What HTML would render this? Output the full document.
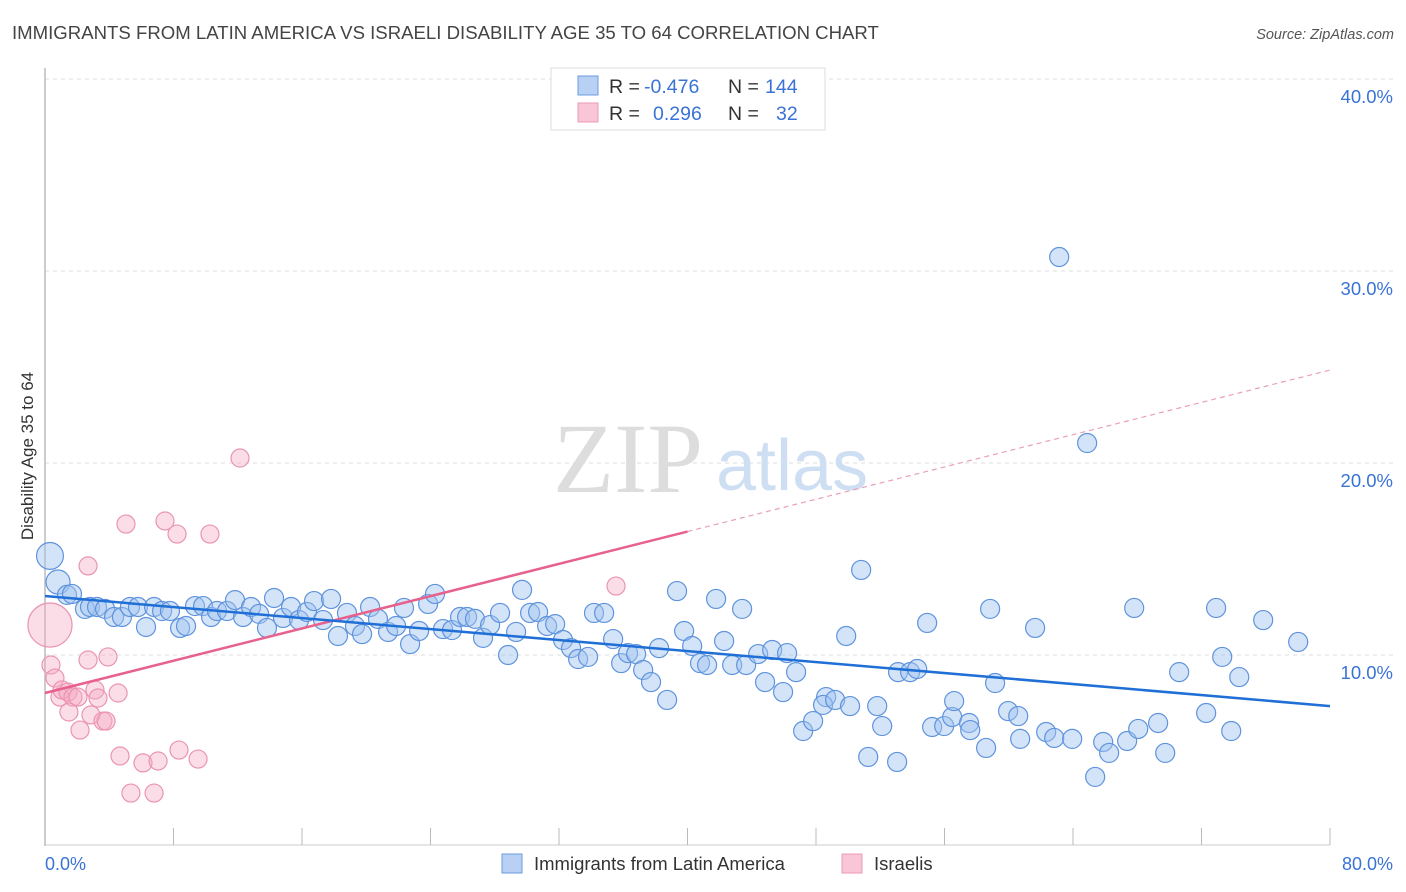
<!DOCTYPE html>
<html><head><meta charset="utf-8"><style>
body{margin:0;background:#fff;font-family:"Liberation Sans",sans-serif;}
#wrap{position:relative;width:1406px;height:892px;overflow:hidden}
</style></head><body>
<div id="wrap">
<svg id="svg" width="1406" height="892" xmlns="http://www.w3.org/2000/svg">
<text x="12" y="39" font-size="18.6" fill="#444">IMMIGRANTS FROM LATIN AMERICA VS ISRAELI DISABILITY AGE 35 TO 64 CORRELATION CHART</text>
<text x="1394" y="39" font-size="14.5" fill="#555" font-style="italic" text-anchor="end">Source: ZipAtlas.com</text>
<g id="grid"></g>
<g>
<text x="553" y="492" font-family="Liberation Serif,serif" font-size="100" fill="#ddd">ZIP</text>
<text x="716" y="490" font-size="72" fill="#cfdff3">atlas</text>
</g>
<line x1="45" y1="68" x2="45" y2="846" stroke="#bbb" stroke-width="1.5"/>
<line x1="45" y1="845" x2="1330" y2="845" stroke="#ccc" stroke-width="1"/>
<g id="ticks"></g>
<g id="pts"></g>
<g id="trends"></g>
<text transform="translate(33,456) rotate(-90)" font-size="17" fill="#333" text-anchor="middle">Disability Age 35 to 64</text>
<g id="ylabels"></g>
<text x="45" y="870" font-size="18" fill="#3a73d6">0.0%</text>
<text x="1393" y="870" font-size="18" fill="#3a73d6" text-anchor="end">80.0%</text>
<g>
<rect x="551" y="68" width="274" height="62" fill="#fff" stroke="#ddd"/>
<rect x="578" y="76" width="20" height="19" fill="#b7d0f3" stroke="#6b9be0"/>
<rect x="578" y="103" width="20" height="19" fill="#f8c6d6" stroke="#ea9ab4"/>
<text y="93" font-size="19.5" fill="#333"><tspan x="609">R =</tspan><tspan x="644" fill="#3a73d6">-0.476</tspan><tspan x="728">N =</tspan><tspan x="765" fill="#3a73d6">144</tspan></text>
<text y="120" font-size="19.5" fill="#333"><tspan x="609">R =</tspan><tspan x="653" fill="#3a73d6">0.296</tspan><tspan x="728">N =</tspan><tspan x="776" fill="#3a73d6">32</tspan></text>
</g>
<g>
<rect x="502" y="854" width="20" height="19" fill="#b7d0f3" stroke="#6b9be0"/>
<text x="534" y="870" font-size="18.5" fill="#333">Immigrants from Latin America</text>
<rect x="842" y="854" width="20" height="19" fill="#f8c6d6" stroke="#ea9ab4"/>
<text x="874" y="870" font-size="18.5" fill="#333">Israelis</text>
</g>
</svg>
</div>
<script>
const yTicks=[10,20,30,40];
const xTicks=[0,8,16,24,32,40,48,56,64,72,80];
const blueX=[0.31,0.81,1.37,1.68,2.49,2.80,3.24,3.74,4.30,4.79,5.29,5.79,6.29,6.79,7.29,7.78,8.41,8.78,9.34,9.84,10.34,10.71,11.33,11.83,12.33,12.83,13.33,13.82,14.26,14.82,15.32,15.82,16.31,16.75,17.31,17.81,18.24,18.80,19.30,19.74,20.24,20.73,21.36,21.86,22.35,22.73,23.29,23.85,24.28,24.78,25.34,25.84,26.28,26.77,27.27,27.71,28.33,28.83,29.33,29.70,30.20,30.70,31.26,31.76,32.25,32.75,33.19,33.81,34.18,34.81,35.37,35.87,36.30,36.80,37.24,37.73,38.23,38.73,39.35,39.79,40.29,40.78,41.22,41.78,42.28,42.78,43.40,43.65,44.40,44.83,45.27,45.95,46.20,46.76,47.20,47.82,48.63,48.44,49.19,50.12,49.88,50.81,51.25,51.81,52.12,53.05,53.11,53.86,54.30,54.92,55.23,55.98,56.48,56.60,57.53,57.60,58.59,58.84,59.15,59.96,60.59,60.71,61.64,62.33,62.83,63.14,63.95,64.88,65.38,65.88,66.25,67.37,67.81,68.06,69.30,69.74,70.61,72.29,72.91,73.29,73.85,74.35,75.84,78.02];
const blueY=[15.16,13.80,13.13,13.18,12.40,12.50,12.50,12.40,11.98,11.98,12.50,12.50,11.46,12.50,12.29,12.29,11.41,11.51,12.55,12.55,11.98,12.29,12.29,12.86,11.98,12.50,12.14,11.41,12.97,11.93,12.50,11.82,12.24,12.81,11.82,12.92,10.99,12.19,11.51,11.09,12.50,11.88,11.20,11.51,12.45,10.57,11.25,12.66,13.18,11.35,11.30,11.98,11.98,11.88,10.89,11.56,12.19,10.00,11.20,13.39,12.19,12.24,11.51,11.61,10.78,10.36,9.79,9.90,12.19,12.19,10.83,9.58,10.10,10.05,9.22,8.59,10.36,7.66,13.33,11.25,10.47,9.58,9.48,12.92,10.73,9.48,12.40,9.48,10.05,8.59,10.26,8.07,10.10,9.11,6.04,6.56,7.81,7.40,7.66,7.34,10.99,14.43,4.69,7.34,6.30,4.43,9.11,9.11,9.27,11.67,6.25,6.30,6.77,7.60,6.46,6.09,5.16,12.40,8.54,7.08,6.82,5.63,11.41,5.99,5.68,30.73,5.63,21.04,3.65,5.47,4.90,5.52,12.45,6.15,6.46,4.90,9.11,6.98,12.45,9.90,6.04,8.85,11.82,10.68];
const blueWeight=[2,1.6];
const pinkX=[0.31,0.37,0.62,0.93,1.06,1.43,1.74,1.49,2.18,2.05,2.68,2.68,3.11,3.30,2.86,3.61,3.80,3.92,4.55,4.67,5.04,5.35,6.10,6.79,7.04,7.47,8.22,8.34,9.53,10.27,12.14,35.55];
const pinkY=[11.56,9.48,8.80,7.81,8.18,8.07,7.81,7.03,6.09,7.81,9.74,14.64,8.18,7.76,6.88,6.56,6.56,9.90,8.02,4.74,16.82,2.81,4.38,2.81,4.48,16.98,16.30,5.05,4.58,16.30,20.26,13.59];
const pinkWeight=[6];
const blueTrend=[13.07,7.34];
const pinkTrend=[8.02,24.84];
const pinkSolidEnd=40;

const X=v=>45+v*(1285/80);
const Y=v=>847-v*19.2;
const NS='http://www.w3.org/2000/svg';
function mk(tag,attrs,parent){const e=document.createElementNS(NS,tag);for(const k in attrs)e.setAttribute(k,attrs[k]);parent.appendChild(e);return e;}
const grid=document.getElementById('grid'),yl=document.getElementById('ylabels');
yTicks.forEach(t=>{
 const l=mk('line',{x1:45,x2:1393,y1:Y(t),y2:Y(t),stroke:'#ddd','stroke-dasharray':'4,4'},grid);
 
 
 const tx=mk('text',{x:1393,y:Y(t)+24,'font-size':18.5,fill:'#3a73d6','text-anchor':'end'},yl);
 tx.textContent=t.toFixed(1)+'%';
 
 
});
const tk=document.getElementById('ticks');
xTicks.forEach(t=>{
 const l=mk('line',{x1:X(t),x2:X(t),y1:828,y2:845,stroke:'#bbb'},tk);
 
 
});
const pts=document.getElementById('pts');
pinkX.forEach((x,i)=>{
 const c=mk('circle',{cx:X(x),cy:Y(pinkY[i]),r:9*(pinkWeight[i]?Math.sqrt(pinkWeight[i]):1),fill:'rgba(246,170,196,0.4)',stroke:'#eb94b1','stroke-width':1.2},pts);
 
 
});
blueX.forEach((x,i)=>{
 const c=mk('circle',{cx:X(x),cy:Y(blueY[i]),r:9.5*(blueWeight[i]?Math.sqrt(blueWeight[i]):1),fill:'rgba(160,196,240,0.45)',stroke:'#5f93dd','stroke-width':1.2},pts);
 
 
});
const tr=document.getElementById('trends');
const pAt=x=>pinkTrend[0]+(pinkTrend[1]-pinkTrend[0])*x/80;
let l1=mk('line',{x1:X(0),y1:Y(pAt(0)),x2:X(pinkSolidEnd),y2:Y(pAt(pinkSolidEnd)),stroke:'#e8608c','stroke-width':2.5},tr);


let l2=mk('line',{x1:X(pinkSolidEnd),y1:Y(pAt(pinkSolidEnd)),x2:X(80),y2:Y(pAt(80)),stroke:'#e8a0b8','stroke-width':1.2,'stroke-dasharray':'5,4'},tr);


let l3=mk('line',{x1:X(0),y1:Y(blueTrend[0]),x2:X(80),y2:Y(blueTrend[1]),stroke:'#1f6fd6','stroke-width':2.5},tr);


</script>
</body></html>
